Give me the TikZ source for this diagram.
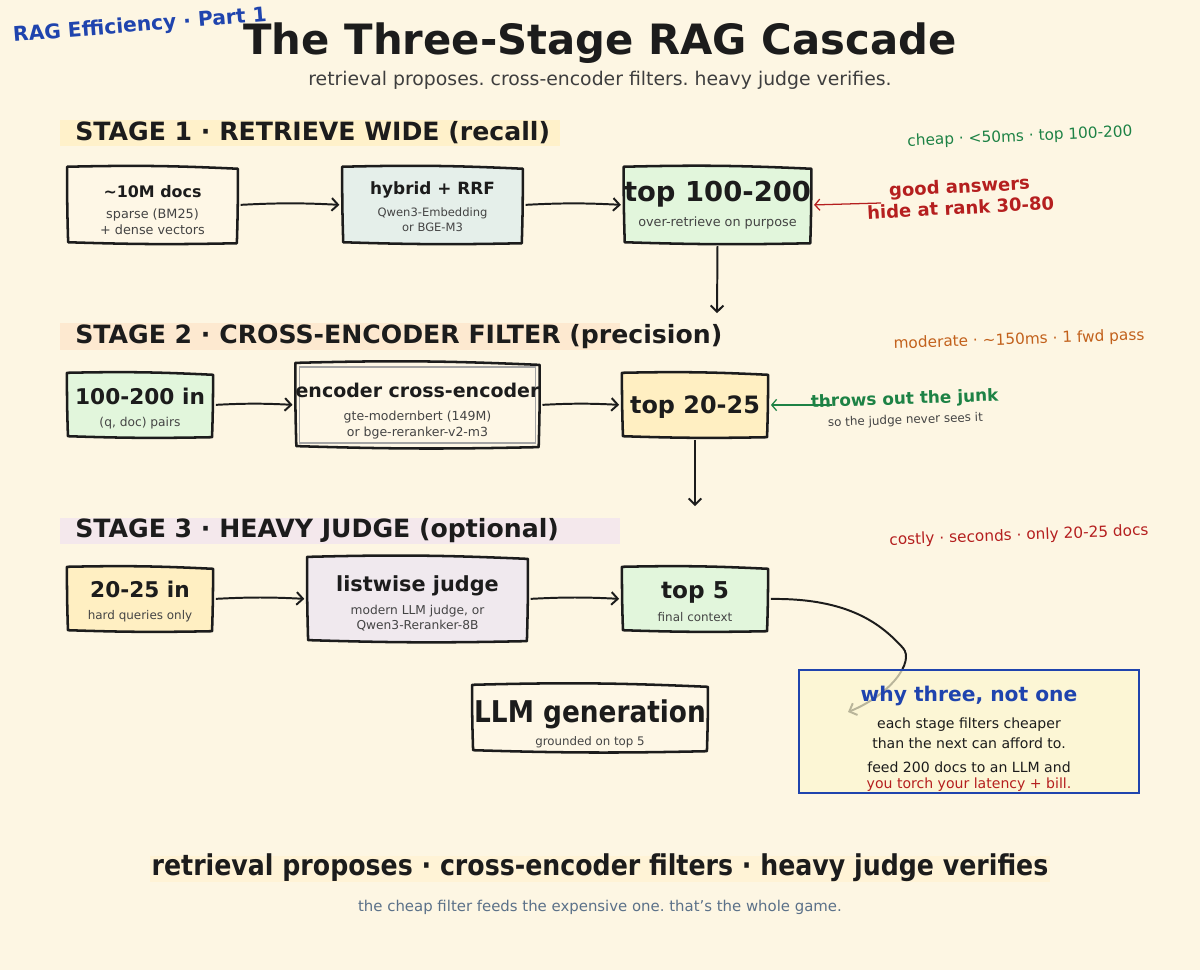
\documentclass[tikz,border=0pt]{standalone}
\usepackage{fontspec}
\setmainfont{DejaVu Sans}
\newfontfamily\condfont{DejaVu Sans}[FakeStretch=0.88]
\usetikzlibrary{arrows.meta,positioning,calc,backgrounds}
\frenchspacing
\definecolor{pageBg}{HTML}{FDF6E3}
\definecolor{ragInk}{HTML}{1C1C1C}
\definecolor{ragSub}{HTML}{444444}
\definecolor{ragBlue}{HTML}{1F44AE}
\definecolor{ragGreen}{HTML}{1D8245}
\definecolor{ragOrange}{HTML}{C2611C}
\definecolor{ragRed}{HTML}{B51F1F}
\definecolor{ragSlate}{HTML}{5B7189}
\definecolor{hlOne}{HTML}{FFF1CA}
\definecolor{hlTwo}{HTML}{FDE9D0}
\definecolor{hlThree}{HTML}{F4E8EC}
\definecolor{hlFoot}{HTML}{FFF3D6}
\definecolor{fillCream}{HTML}{FEF7E6}
\definecolor{fillTeal}{HTML}{E5EFEA}
\definecolor{fillGreen}{HTML}{E2F6DC}
\definecolor{fillGold}{HTML}{FFEFC2}
\definecolor{fillLilac}{HTML}{F0E9EE}
\definecolor{fillNote}{HTML}{FCF7D0}
\tikzset{
    >={Straight Barb[length=4.5pt,width=9pt]},
    boxline/.style={draw=ragInk, line width=1.8pt, line join=round},
    innerline/.style={draw=ragInk!40, line width=0.9pt},
    sbox/.style 2 args={minimum width=#1, minimum height=#2, inner sep=0pt, align=center, text=ragSub},
    flow/.style={->, line width=1.4pt, draw=ragInk, shorten <=2pt, shorten >=2pt},
    pointer/.style={->, line width=0.9pt, shorten >=2pt, >={Straight Barb[length=3.5pt,width=8pt]}},
    stagehead/.style={anchor=west, inner sep=0pt, text=ragInk, font=\fontsize{17.9}{20}\selectfont\bfseries},
    aside/.style={inner sep=0pt, font=\fontsize{10.9}{13}\selectfont},
    notebox/.style={draw=ragBlue, line width=1.4pt, fill=fillNote, fill opacity=0.7, text opacity=1, minimum width=242pt, minimum height=87pt, inner sep=0pt, align=center, text=ragInk, font=\fontsize{10}{11.3}\selectfont}
}
% title line of a box; #1 = strut height that lowers the box text
\newcommand\boxhead[3]{{\fontsize{#2}{#2}\selectfont\bfseries\color{ragInk}\rule{0pt}{#1}#3}}
\newcommand\handbox[2]{%
  \draw[boxline, fill=#2]
    (#1.north west) to[bend left=2] ($(#1.north east)+(0,2)$)
    to[bend left=1] ($(#1.south east)+(-1,0)$)
    to[bend left=1.5] ($(#1.south west)+(1,-1)$)
    to[bend left=1] cycle;}

\begin{document}
\begin{tikzpicture}[x=0.025cm, y=-0.025cm]
\useasboundingbox (0,0) rectangle (1200,970);
\begin{scope}[on background layer]
\fill[pageBg] (0,0) rectangle (1200,970);
\fill[hlOne] (60,120) rectangle (560,146);
\fill[hlTwo] (60,323) rectangle (620,350);
\fill[hlThree] (60,518) rectangle (620,544);
\fill[hlFoot] (150,856) rectangle (1050,882);
\end{scope}

% header
\node[inner sep=0pt, text=ragInk, font=\fontsize{29.7}{32}\selectfont\bfseries] (title) at (600,43) {The Three-Stage RAG Cascade};
\node[inner sep=0pt, text=ragInk!85, font=\fontsize{13.4}{15}\selectfont] (subtitle) at (600,80) {retrieval proposes. cross-encoder filters. heavy judge verifies.};
\node[inner sep=0pt, text=ragBlue, rotate=4.5, font=\fontsize{14.4}{16}\selectfont\bfseries] (series) at (140,26) {RAG Efficiency · Part 1};

% stage 1
\node[stagehead] (head1) at (75,133) {STAGE 1 · RETRIEVE WIDE (recall)};
\node[aside, text=ragGreen, rotate=2.5] (cost1) at (1020,137) {cheap · <50ms · top 100-200};
\node[sbox={121pt}{54pt}, font=\fontsize{9.1}{11.3}\selectfont] (docs) at (152.5,205)
  {\boxhead{15.6pt}{11.3}{\textasciitilde10M docs}\\[4pt] sparse (BM25)\\+ dense vectors};
\node[sbox={128pt}{54pt}, font=\fontsize{8.2}{10.6}\selectfont] (hybrid) at (432.5,205)
  {\boxhead{11.9pt}{12}{hybrid + RRF}\\[5pt] Qwen3-Embedding\\or BGE-M3};
\node[sbox={128pt}{54pt}, font=\fontsize{9.1}{11.3}\selectfont] (top200) at (717.5,205)
  {\boxhead{0pt}{19.5}{top 100-200}\\[6.5pt] over-retrieve on purpose};
\node[align=center, inner sep=0pt, text=ragRed, rotate=3, font=\fontsize{12.8}{15.2}\selectfont\bfseries] (goodans) at (960,197) {good answers\\hide at rank 30-80};

% stage 2
\node[stagehead] (head2) at (75,337) {STAGE 2 · CROSS-ENCODER FILTER (precision)};
\node[aside, text=ragOrange, rotate=2] (cost2) at (1019,340) {moderate · \textasciitilde150ms · 1 fwd pass};
\node[sbox={103.5pt}{45.4pt}, font=\fontsize{8.7}{11.3}\selectfont] (in200) at (140,405)
  {\boxhead{16.7pt}{15.4}{100-200 in}\\[3.9pt] (q, doc) pairs};
\node[sbox={156.6pt}{59.5pt}, font=\fontsize{8.9}{11.3}\selectfont] (cross) at (417.5,405)
  {\boxhead{18.9pt}{13.5}{encoder cross-encoder}\\[4.6pt] gte-modernbert (149M)\\or bge-reranker-v2-m3};
\node[sbox={103.5pt}{45.4pt}] (top25) at (695,405) {\boxhead{15.2pt}{17}{top 20-25}};
\node[align=center, inner sep=0pt, text=ragSub, rotate=2, font=\fontsize{8.5}{11}\selectfont] (junk) at (905,409)
  {{\fontsize{12}{12}\selectfont\bfseries\color{ragGreen}throws out the junk}\\[3pt] so the judge never sees it};

% stage 3
\node[stagehead] (head3) at (75,531) {STAGE 3 · HEAVY JUDGE (optional)};
\node[aside, text=ragRed, rotate=2.2] (cost3) at (1019,536) {costly · seconds · only 20-25 docs};
\node[sbox={103.5pt}{45.4pt}, font=\fontsize{8.5}{11.3}\selectfont] (in25) at (140,599)
  {\boxhead{15.4pt}{15.4}{20-25 in}\\[3.8pt] hard queries only};
\node[sbox={156.6pt}{59.5pt}, font=\fontsize{8.7}{11.3}\selectfont] (judge) at (417.5,599)
  {\boxhead{17.6pt}{14.8}{listwise judge}\\[4.9pt] modern LLM judge, or\\Qwen3-Reranker-8B};
\node[sbox={103.5pt}{45.4pt}, font=\fontsize{8.5}{11.3}\selectfont] (top5) at (695,599)
  {\boxhead{15.6pt}{16.5}{top 5}\\[4.9pt] final context};
\node[sbox={167.3pt}{46.8pt}, font=\fontsize{8.4}{11.3}\selectfont] (llm) at (590,718)
  {{\condfont\boxhead{24.1pt}{21.3}{LLM generation}}\\[5pt] grounded on top 5};

% footer
\node[inner sep=0pt, text=ragInk, font=\condfont\fontsize{20.4}{22}\selectfont\bfseries] (motto) at (600,868) {retrieval proposes · cross-encoder filters · heavy judge verifies};
\node[inner sep=0pt, text=ragSlate, font=\fontsize{10.6}{12}\selectfont] (game) at (600,907) {the cheap filter feeds the expensive one. that's the whole game.};

% sketched outlines
\begin{scope}[on background layer]
\handbox{docs}{fillCream}
\handbox{hybrid}{fillTeal}
\handbox{top200}{fillGreen}
\handbox{in200}{fillGreen}
\handbox{cross}{fillCream}
\draw[innerline] ($(cross.north west)+(4,4)$) rectangle ($(cross.south east)+(-4,-4)$);
\handbox{top25}{fillGold}
\handbox{in25}{fillGold}
\handbox{judge}{fillLilac}
\handbox{top5}{fillGreen}
\handbox{llm}{fillCream}
\end{scope}

% connectors
\coordinate (drop1) at (717,316);
\coordinate (drop2) at (695,509);
\coordinate (goodtip) at (881,203);
\coordinate (junktip) at (832,405);
\coordinate (notetip) at (848,712);
\draw[flow] (docs.east) to[bend left=3] (hybrid.west);
\draw[flow] (hybrid.east) to[bend left=3] (top200.west);
\draw[flow] (top200.south) -- (drop1);
\draw[flow] (in200.east) to[bend left=3] (cross.west);
\draw[flow] (cross.east) to[bend left=3] (top25.west);
\draw[flow] (top25.south) -- (drop2);
\draw[flow] (in25.east) to[bend left=3] (judge.west);
\draw[flow] (judge.east) to[bend left=3] (top5.west);
\draw[pointer, draw=ragRed] (goodtip) -- (top200.east);
\draw[pointer, draw=ragGreen] (junktip) -- (top25.east);
\draw[flow, shorten >=0pt] (top5.east) .. controls (850,598) and (882,625) .. (903,648) .. controls (915,662) and (890,695) .. (notetip);

% side note
\node[notebox] (why) at (969,731.5)
  {{\fontsize{14.4}{14.4}\selectfont\bfseries\color{ragBlue}\rule{0pt}{20.9pt}why three, not one}\\[8.2pt] each stage filters cheaper\\[2.9pt] than the next can afford to.\\[5.7pt] feed 200 docs to an LLM and\\{\color{ragRed}you torch your latency + bill.}};
\end{tikzpicture}
\end{document}
